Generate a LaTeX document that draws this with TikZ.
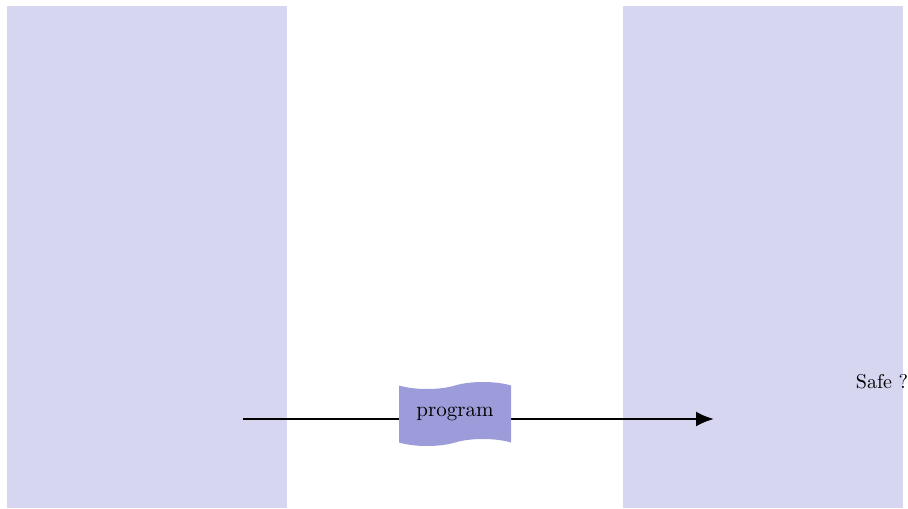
\documentclass[tikz,border=0pt]{standalone}
\usetikzlibrary{shapes.symbols,arrows.meta}
\definecolor{zone}{HTML}{D6D6F1}
\definecolor{tapefill}{HTML}{9C9CDA}
\begin{document}
\begin{tikzpicture}[x=0.5pt,y=-0.5pt,
  zonebox/.style={fill=zone,draw=none},
  progtape/.style={tape,fill=tapefill,draw=none,minimum width=56pt,minimum height=32pt,
    tape bend height=3.5pt,inner sep=0pt,font=\normalsize},
  flow/.style={-{Latex[length=9pt,width=7.5pt]},line width=1.2pt}]
  \useasboundingbox (0,0) rectangle (908,508);
  % two regions
  \fill[zonebox] (7,6) rectangle (287,508);
  \fill[zonebox] (623,6) rectangle (903,508);
  % flow of the program between the regions
  \coordinate (src) at (243,419);
  \coordinate (dst) at (714,419);
  \draw[flow] (src) -- (dst);
  \node[progtape] (prog) at (455,414) {\fontsize{10.5pt}{12pt}\selectfont program};
  \node[anchor=base] (safe) at (882,388) {Safe ?};
\end{tikzpicture}
\end{document}
